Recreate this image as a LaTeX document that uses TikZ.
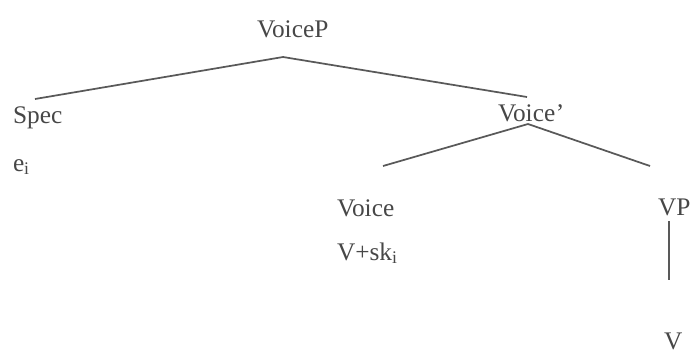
\documentclass[tikz,border=0pt]{standalone}
\usepackage{fontspec}
\setmainfont{Liberation Serif}
\begin{document}
\begin{tikzpicture}[x=0.75pt,y=-0.75pt,
  lbl/.style={inner sep=0pt,outer sep=0pt,anchor=base west,text=black!72,font=\fontsize{19}{22}\selectfont},
  branch/.style={draw=black!65,line width=1.3pt}]
\useasboundingbox (0,0) rectangle (691,354);
\node[lbl] (voicep) at (257,37) {VoiceP};
\node[lbl] (spec) at (13,123) {Spec};
\node[lbl] (ei) at (13,171) {e\textsubscript{i}};
\node[lbl] (voicebar) at (498,121) {Voice\kern0.5pt’};
\node[lbl] (voice) at (337,216) {Voice};
\node[lbl] (vsk) at (337,260) {V+sk\textsubscript{i}};
\node[lbl] (vp) at (658,215) {VP};
\node[lbl] (v) at (664,349) {V};
\coordinate (top) at (283,57);
\coordinate (specend) at (35,99);
\coordinate (barend) at (527,97);
\coordinate (bartop) at (528,124);
\coordinate (voiceend) at (383,166);
\coordinate (vpend) at (650,166);
\coordinate (vptop) at (669,221);
\coordinate (vbot) at (669,280);
\draw[branch] (specend) -- (top) -- (barend);
\draw[branch] (voiceend) -- (bartop) -- (vpend);
\draw[branch] (vptop) -- (vbot);
\end{tikzpicture}
\end{document}
